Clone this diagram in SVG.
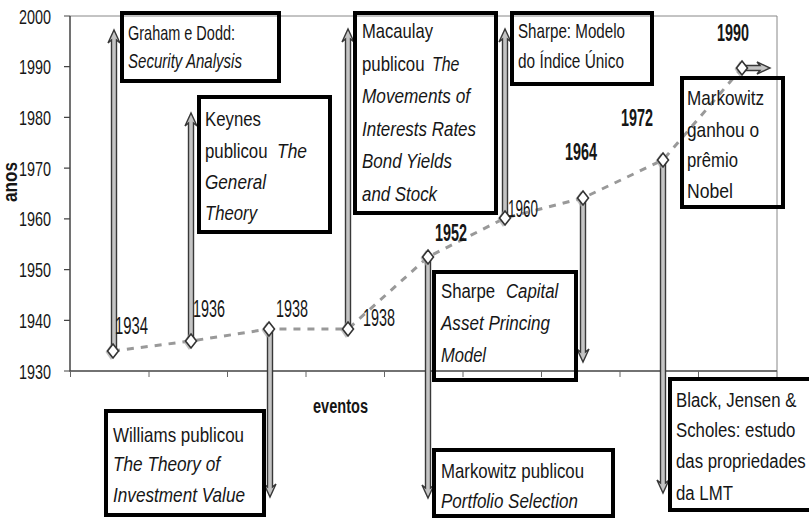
<svg xmlns="http://www.w3.org/2000/svg" width="809" height="518" viewBox="0 0 809 518">
<style>
text{font-family:"Liberation Sans Narrow","Liberation Sans",Arial,sans-serif;fill:#161616}
.t{font-size:21px}
.i{font-style:italic}
.yr{font-size:23px}
.ax{font-size:21px}
.b{font-weight:bold}
.box{fill:none;stroke:#000;stroke-width:4}
.arr{fill:#c4c4c4;stroke:#383838;stroke-width:1.4;stroke-linejoin:miter}
.dia{fill:#fff;stroke:#333;stroke-width:1.6}
.sh{fill:#a8a8a8;opacity:0.7}
</style>
<rect width="809" height="518" fill="#fff"/>
<g id="plot">
<path d="M70,16H777V371" fill="none" stroke="#888" stroke-width="1"/>
<path d="M70,16V371H777" fill="none" stroke="#444" stroke-width="1.5"/>
<path d="M64,16H70M64,66.7H70M64,117.4H70M64,168.1H70M64,218.9H70M64,269.6H70M64,320.3H70M64,371H70" stroke="#444" stroke-width="1.2"/>
<path d="M70.5,371V377M149,371V377M227.5,371V377M306,371V377M384.5,371V377M463,371V377M541.5,371V377M620,371V377M698.5,371V377M777,371V377" stroke="#666" stroke-width="1"/>
<g class="ax" text-anchor="end">
<text x="51" y="23.5" textLength="32" lengthAdjust="spacingAndGlyphs">2000</text>
<text x="51" y="74.2" textLength="32" lengthAdjust="spacingAndGlyphs">1990</text>
<text x="51" y="124.9" textLength="32" lengthAdjust="spacingAndGlyphs">1980</text>
<text x="51" y="175.6" textLength="32" lengthAdjust="spacingAndGlyphs">1970</text>
<text x="51" y="226.4" textLength="32" lengthAdjust="spacingAndGlyphs">1960</text>
<text x="51" y="277.1" textLength="32" lengthAdjust="spacingAndGlyphs">1950</text>
<text x="51" y="327.8" textLength="32" lengthAdjust="spacingAndGlyphs">1940</text>
<text x="51" y="378.5" textLength="32" lengthAdjust="spacingAndGlyphs">1930</text>
</g>
<text class="b" font-size="20" transform="translate(17,182) rotate(-90)" text-anchor="middle" textLength="40" lengthAdjust="spacingAndGlyphs">anos</text>
<text class="b" font-size="20" x="313" y="413" textLength="55" lengthAdjust="spacingAndGlyphs">eventos</text>
</g>
<g id="connectors">
<polyline points="113,351 191,341 269,329 348,329 428,257 505,218 583,198 663,160 742,68" fill="none" stroke="#999" stroke-width="3" stroke-dasharray="7 7"/>
<path class="arr" d="M111.5,351V40L108,43L114,30L120,43L116.5,40V351Z"/>
<path class="arr" d="M188.5,341V123L185,126L191,113L197,126L193.5,123V341Z"/>
<path class="arr" d="M267.5,329V487L264,484L270,497L276,484L272.5,487V329Z"/>
<path class="arr" d="M345.5,329V39L342,42L348,29L354,42L350.5,39V329Z"/>
<path class="arr" d="M425.5,257V488L422,485L428,498L434,485L430.5,488V257Z"/>
<path class="arr" d="M502.5,218V39L499,42L505,29L511,42L507.5,39V218Z"/>
<path class="arr" d="M580.5,198V352L577,349L583,362L589,349L585.5,352V198Z"/>
<path class="arr" d="M660.5,160V483L657,480L663,493L669,480L665.5,483V160Z"/>
<path class="arr" d="M742,65.5H760L757,62L770,68L757,74L760,70.5H742Z"/>
</g>
<g id="points">
<path class="sh" d="M111,344L116.5,352L111,360L105.5,352Z"/>
<path class="dia" d="M113,344L118.5,351L113,358L107.5,351Z"/>
<path class="sh" d="M189,334L194.5,342L189,350L183.5,342Z"/>
<path class="dia" d="M191,334L196.5,341L191,348L185.5,341Z"/>
<path class="sh" d="M267,322L272.5,330L267,338L261.5,330Z"/>
<path class="dia" d="M269,322L274.5,329L269,336L263.5,329Z"/>
<path class="sh" d="M346,322L351.5,330L346,338L340.5,330Z"/>
<path class="dia" d="M348,322L353.5,329L348,336L342.5,329Z"/>
<path class="sh" d="M426,250L431.5,258L426,266L420.5,258Z"/>
<path class="dia" d="M428,250L433.5,257L428,264L422.5,257Z"/>
<path class="sh" d="M503,211L508.5,219L503,227L497.5,219Z"/>
<path class="dia" d="M505,211L510.5,218L505,225L499.5,218Z"/>
<path class="sh" d="M581,191L586.5,199L581,207L575.5,199Z"/>
<path class="dia" d="M583,191L588.5,198L583,205L577.5,198Z"/>
<path class="sh" d="M661,153L666.5,161L661,169L655.5,161Z"/>
<path class="dia" d="M663,153L668.5,160L663,167L657.5,160Z"/>
<path class="sh" d="M740,61L745.5,69L740,77L734.5,69Z"/>
<path class="dia" d="M742,61L747.5,68L742,75L736.5,68Z"/>
</g>
<g id="years" class="yr">
<text x="115" y="334" textLength="33" lengthAdjust="spacingAndGlyphs">1934</text>
<text x="193" y="317" textLength="32" lengthAdjust="spacingAndGlyphs">1936</text>
<text x="276" y="317" textLength="32" lengthAdjust="spacingAndGlyphs">1938</text>
<text x="363" y="326" textLength="32" lengthAdjust="spacingAndGlyphs">1938</text>
<text class="b" x="435" y="241" textLength="32" lengthAdjust="spacingAndGlyphs">1952</text>
<text x="508" y="217" textLength="30" lengthAdjust="spacingAndGlyphs">1960</text>
<text class="b" x="565" y="160" textLength="32" lengthAdjust="spacingAndGlyphs">1964</text>
<text class="b" x="621" y="126" textLength="32" lengthAdjust="spacingAndGlyphs">1972</text>
<text class="b" x="717" y="41" textLength="32" lengthAdjust="spacingAndGlyphs">1990</text>
</g>
<g id="graham" class="t">
<rect class="box" x="122" y="13" width="157" height="68"/>
<text x="128" y="40" textLength="107" lengthAdjust="spacingAndGlyphs">Graham e Dodd:</text>
<text class="i" x="128" y="68" textLength="114" lengthAdjust="spacingAndGlyphs">Security Analysis</text>
</g>
<g id="keynes" class="t">
<rect class="box" x="199" y="97" width="131" height="135"/>
<text x="205" y="126" textLength="56" lengthAdjust="spacingAndGlyphs">Keynes</text>
<text transform="translate(205,158) scale(0.8,1)">publicou</text>
<text class="i" transform="translate(277,158) scale(0.83,1)">The</text>
<text class="i" x="205" y="189" textLength="61" lengthAdjust="spacingAndGlyphs">General</text>
<text class="i" x="205" y="220" textLength="52" lengthAdjust="spacingAndGlyphs">Theory</text>
</g>
<g id="williams" class="t">
<rect class="box" x="106" y="411" width="158" height="104"/>
<text x="113" y="442" textLength="131" lengthAdjust="spacingAndGlyphs">Williams publicou</text>
<text class="i" x="113" y="471" textLength="107" lengthAdjust="spacingAndGlyphs">The Theory of</text>
<text class="i" x="113" y="502" textLength="132" lengthAdjust="spacingAndGlyphs">Investment Value</text>
</g>
<g id="macaulay" class="t">
<rect class="box" x="355" y="13" width="141" height="200"/>
<text x="362" y="38" textLength="71" lengthAdjust="spacingAndGlyphs">Macaulay</text>
<text transform="translate(362,71) scale(0.8,1)">publicou</text>
<text class="i" transform="translate(432,71) scale(0.76,1)">The</text>
<text class="i" x="362" y="103" textLength="108" lengthAdjust="spacingAndGlyphs">Movements of</text>
<text class="i" x="362" y="136" textLength="114" lengthAdjust="spacingAndGlyphs">Interests Rates</text>
<text class="i" x="362" y="168" textLength="90" lengthAdjust="spacingAndGlyphs">Bond Yields</text>
<text class="i" x="362" y="201" textLength="75" lengthAdjust="spacingAndGlyphs">and Stock</text>
</g>
<g id="sharpe-indice" class="t">
<rect class="box" x="512" y="13" width="140" height="71"/>
<text x="518" y="38" textLength="107" lengthAdjust="spacingAndGlyphs">Sharpe: Modelo</text>
<text x="518" y="68" textLength="106" lengthAdjust="spacingAndGlyphs">do Índice Único</text>
</g>
<g id="sharpe-capm" class="t">
<rect class="box" x="434" y="272" width="142" height="108"/>
<text transform="translate(441,298) scale(0.8,1)">Sharpe</text>
<text class="i" transform="translate(506,298) scale(0.8,1)">Capital</text>
<text class="i" x="441" y="330" textLength="109" lengthAdjust="spacingAndGlyphs">Asset Princing</text>
<text class="i" x="441" y="362" textLength="45" lengthAdjust="spacingAndGlyphs">Model</text>
</g>
<g id="markowitz-pub" class="t">
<rect class="box" x="434" y="450" width="179" height="66"/>
<text x="441" y="478" textLength="143" lengthAdjust="spacingAndGlyphs">Markowitz publicou</text>
<text class="i" x="441" y="508" textLength="137" lengthAdjust="spacingAndGlyphs">Portfolio Selection</text>
</g>
<g id="markowitz-nobel" class="t">
<rect class="box" x="682" y="78" width="101" height="129"/>
<text x="687" y="105" textLength="77" lengthAdjust="spacingAndGlyphs">Markowitz</text>
<text x="687" y="137" textLength="72" lengthAdjust="spacingAndGlyphs">ganhou o</text>
<text x="687" y="167" textLength="51" lengthAdjust="spacingAndGlyphs">prêmio</text>
<text x="687" y="198" textLength="46" lengthAdjust="spacingAndGlyphs">Nobel</text>
</g>
<g id="black-jensen" class="t">
<rect class="box" x="670" y="379" width="145" height="131"/>
<g transform="translate(676,0) scale(0.8,1)">
<text x="0" y="407">Black, Jensen &amp;</text>
<text x="0" y="437">Scholes: estudo</text>
<text x="0" y="468">das propriedades</text>
<text x="0" y="500">da LMT</text>
</g>
</g>
</svg>
